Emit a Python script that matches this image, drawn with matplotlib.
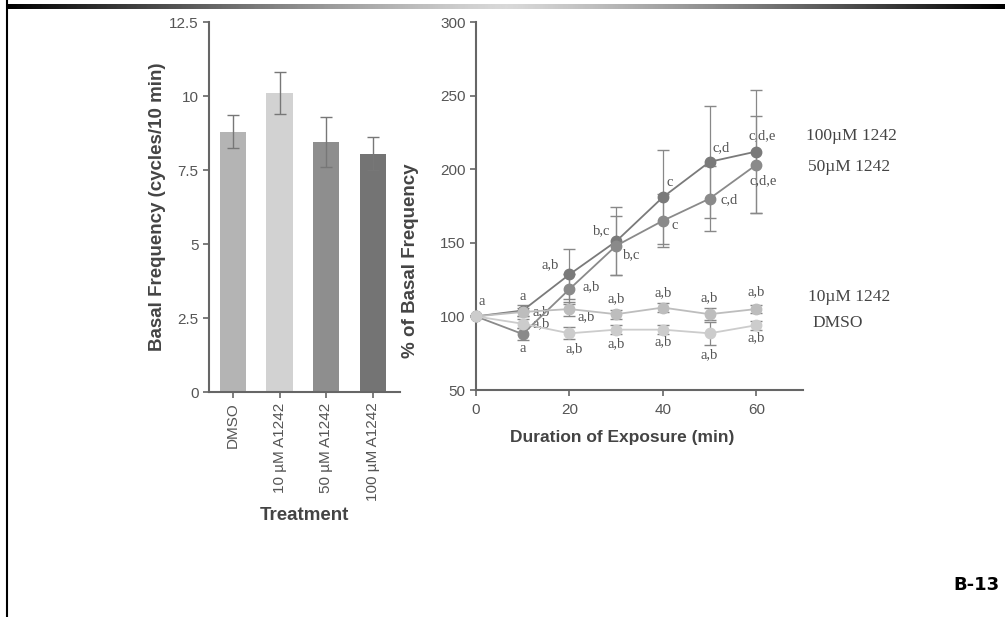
import matplotlib.pyplot as plt
import numpy as np

# bar panel data
treatments = ['DMSO', '10 µM A1242', '50 µM A1242', '100 µM A1242']
basal_freq = [8.8, 10.1, 8.45, 8.05]
basal_err = [0.55, 0.7, 0.85, 0.55]
bar_colors = ['#b4b4b4', '#d2d2d2', '#8e8e8e', '#747474']

# time course data
minutes = [0, 10, 20, 30, 40, 50, 60]
uM100 = [100, 104, 128.5, 151, 181, 205, 212]
uM100_err = [0, 4, 17, 23, 32, 38, 42]
uM50 = [100, 88, 118.5, 148, 165, 180, 203]
uM50_err = [0, 4, 10, 20, 18, 22, 33]
uM10 = [100, 103, 105, 101.5, 106, 101.5, 105]
uM10_err = [0, 3, 5, 3, 3, 4, 3]
dmso = [100, 95, 88.5, 91, 91, 88.5, 94]
dmso_err = [0, 3, 4, 3, 3, 8, 3]

# letters above/below each point
lab100 = ['a', 'a', 'a,b', 'b,c', 'c', 'c,d', 'c,d,e']
lab50 = ['', 'a', 'a,b', 'b,c', 'c', 'c,d', 'c,d,e']
lab10 = ['', 'a,b', 'a,b', 'a,b', 'a,b', 'a,b', 'a,b']
labdmso = ['', 'a,b', 'a,b', 'a,b', 'a,b', 'a,b', 'a,b']
off100 = [(6, 15), (0, 14), (-19, 10), (-14, 11), (7, 15), (12, 14), (6, 16)]
off50 = [(0, 0), (0, -14), (22, 2), (16, -9), (12, -5), (20, -1), (7, -16)]
off10 = [(0, 0), (18, 0), (17, -8), (0, 16), (0, 15), (0, 17), (0, 17)]
offdmso = [(0, 0), (18, 0), (5, -15), (0, -14), (0, -12), (0, -21), (0, -12)]

plt.rcParams['font.family'] = ['Liberation Sans', 'DejaVu Sans']
axis_col = '#666666'
tick_col = '#555555'
label_col = '#444444'

fig = plt.figure(figsize=(10.05, 6.17), dpi=100)

# slide decorations: gradient bar on top, thin line at left
grad = fig.add_axes([7 / 1005, 1 - 9 / 617, 998 / 1005, 5 / 617])
g = np.linspace(0, 1, 400)
shade = 0.85 - 0.85 * np.abs(g - 0.5) ** 1.2 * 2 ** 1.2
grad.imshow(np.vstack([shade, shade]), cmap='gray', vmin=0, vmax=1, aspect='auto')
grad.axis('off')
fig.add_artist(plt.Line2D([7 / 1005, 7 / 1005], [0, 1], color='black', lw=1.5))
fig.text(0.995, 1 - 585 / 617, 'B-13', fontsize=13, fontweight='bold',
         family='DejaVu Sans', ha='right', va='center')

# left: bar chart
ax1 = fig.add_axes([209 / 1005, 1 - 392 / 617, 191 / 1005, 370 / 617])
xpos = np.arange(len(treatments))
ax1.bar(xpos, basal_freq, width=0.56, color=bar_colors, zorder=2)
ax1.errorbar(xpos, basal_freq, yerr=basal_err, fmt='none', ecolor='#777777',
             elinewidth=1, capsize=4, zorder=3)
ax1.set_xlim(-0.51, 3.58)
ax1.set_ylim(0, 12.5)
ax1.set_yticks([0, 2.5, 5, 7.5, 10, 12.5])
ax1.set_yticklabels(['0', '2.5', '5', '7.5', '10', '12.5'])
ax1.set_xticks(xpos)
ax1.set_xticklabels(treatments, rotation=90, fontsize=11)
ax1.set_ylabel('Basal Frequency (cycles/10 min)', fontsize=13.5, fontweight='bold',
               color=label_col)
ax1.yaxis.set_label_coords(-0.225, 0.5)
ax1.set_xlabel('Treatment', fontsize=13.5, fontweight='bold', color=label_col)

# right: time course
ax2 = fig.add_axes([476 / 1005, 1 - 390 / 617, 327 / 1005, 368 / 617])
series = [
    (uM100, uM100_err, '#7a7a7a', lab100, off100),
    (uM50, uM50_err, '#8a8a8a', lab50, off50),
    (uM10, uM10_err, '#bdbdbd', lab10, off10),
    (dmso, dmso_err, '#cccccc', labdmso, offdmso),
]
for vals, errs, col, labs, offs in series:
    ax2.errorbar(minutes, vals, yerr=errs, color=col, ecolor='#888888', elinewidth=0.9,
                 capsize=4, marker='o', markersize=7.5, lw=1.3, zorder=3, clip_on=False)
    for xm, yv, lab, off in zip(minutes, vals, labs, offs):
        if lab:
            ax2.annotate(lab, (xm, yv), xytext=off, textcoords='offset pixels',
                         ha='center', va='center', fontsize=10.5, color='#555555',
                         family='Liberation Serif')

ax2.set_xlim(0, 70)
ax2.set_ylim(50, 300)
ax2.set_xticks([0, 20, 40, 60])
ax2.set_yticks([50, 100, 150, 200, 250, 300])
ax2.set_ylabel('% of Basal Frequency', fontsize=13.5, fontweight='bold', color=label_col)
ax2.yaxis.set_label_coords(-0.175, 0.35)
ax2.set_xlabel('Duration of Exposure (min)', fontsize=12.5, fontweight='bold',
               color=label_col)
ax2.xaxis.set_label_coords(0.447, -0.11)

# series names at the right end
names = ['100µM 1242', '50µM 1242', '10µM 1242', 'DMSO']
name_y = [212, 203, 105, 94]
name_dy = [16, -2, 12, 2]
name_dx = [30, 32, 32, 36]
for nm, yv, dx, dy in zip(names, name_y, name_dx, name_dy):
    ax2.annotate(nm, (60, yv), xytext=(dx + 20, dy), textcoords='offset pixels',
                 ha='left', va='center', fontsize=12.5, color=label_col,
                 family='Liberation Serif', annotation_clip=False)

for ax in (ax1, ax2):
    for s in ('top', 'right'):
        ax.spines[s].set_visible(False)
    for s in ('left', 'bottom'):
        ax.spines[s].set_color(axis_col)
        ax.spines[s].set_linewidth(1.5)
    ax.tick_params(colors=axis_col, labelcolor=tick_col, width=1.2, length=4)
    ax.tick_params(axis='y', labelsize=11)
ax2.tick_params(axis='x', labelsize=11, pad=5)

fig.savefig('out.png', dpi=100)
